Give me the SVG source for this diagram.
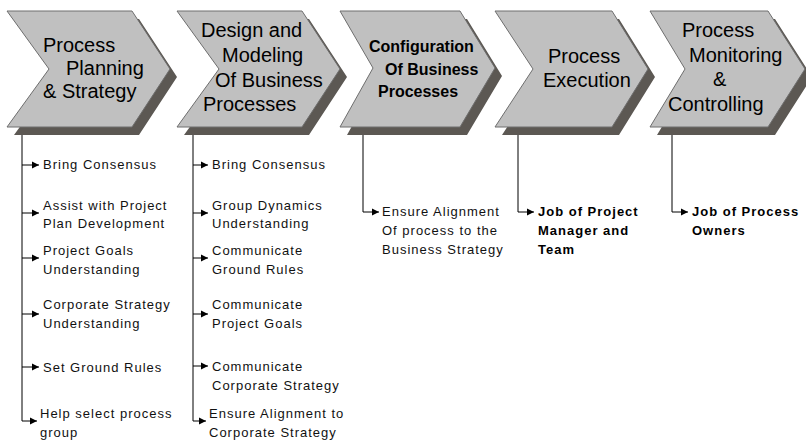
<svg xmlns="http://www.w3.org/2000/svg" width="806" height="442" viewBox="0 0 806 442">
<defs>
<marker id="arr" markerUnits="userSpaceOnUse" markerWidth="9" markerHeight="9" refX="7" refY="4.5" orient="auto">
<path d="M0,1 L7,4.5 L0,8 Z" fill="#000"/>
</marker>
</defs>
<style>
.sh{fill:#5c5853}
.ch{fill:#c0c0c0;stroke:#6e6e6e;stroke-width:1}
.t{font-family:"Liberation Sans",Arial,sans-serif;font-size:20px;fill:#000}
.tb{font-family:"Liberation Sans",Arial,sans-serif;font-size:16px;font-weight:bold;fill:#000}
.s{font-family:"Liberation Sans",Arial,sans-serif;font-size:13px;letter-spacing:1px;fill:#111}
.sb{font-family:"Liberation Sans",Arial,sans-serif;font-size:13px;font-weight:bold;letter-spacing:1px;fill:#000}
.ln{fill:none;stroke:#000;stroke-width:1}
</style>
<rect width="806" height="442" fill="#fff"/>

<g id="step1">
<polygon class="sh" transform="translate(7,8)" points="7,11 132,11 170,69 132,127 7,127 49,69"/>
<polygon class="ch" points="7,11 132,11 170,69 132,127 7,127 49,69"/>
<text class="t"><tspan x="43" y="52">Process</tspan><tspan x="66" y="75">Planning</tspan><tspan x="43" y="98">&amp; Strategy</tspan></text>
</g>
<g id="step2">
<polygon class="sh" transform="translate(7,8)" points="177,11 302,11 340,69 302,127 177,127 219,69"/>
<polygon class="ch" points="177,11 302,11 340,69 302,127 177,127 219,69"/>
<text class="t"><tspan x="201" y="37">Design and</tspan><tspan x="222" y="62">Modeling</tspan><tspan x="215" y="87">Of Business</tspan><tspan x="203" y="111">Processes</tspan></text>
</g>
<g id="step3">
<polygon class="sh" transform="translate(7,8)" points="340,11 460,11 495,68 460,127 340,127 373,68"/>
<polygon class="ch" points="340,11 460,11 495,68 460,127 340,127 373,68"/>
<text class="tb"><tspan x="369" y="52">Configuration</tspan><tspan x="385" y="75">Of Business</tspan><tspan x="378" y="97">Processes</tspan></text>
</g>
<g id="step4">
<polygon class="sh" transform="translate(7,8)" points="495,11 612,11 648,69 612,127 495,127 533,69"/>
<polygon class="ch" points="495,11 612,11 648,69 612,127 495,127 533,69"/>
<text class="t"><tspan x="548" y="63">Process</tspan><tspan x="543" y="87">Execution</tspan></text>
</g>
<g id="step5">
<polygon class="sh" transform="translate(7,8)" points="650,11 768,11 805,69 768,127 650,127 685,69"/>
<polygon class="ch" points="650,11 768,11 805,69 768,127 650,127 685,69"/>
<text class="t"><tspan x="682" y="37">Process</tspan><tspan x="689" y="62">Monitoring</tspan><tspan x="713" y="86">&amp;</tspan><tspan x="668" y="111">Controlling</tspan></text>
</g>

<g id="connectors">
<path class="ln" d="M22,135 V421"/>
<path class="ln" marker-end="url(#arr)" d="M22,165 H39"/>
<path class="ln" marker-end="url(#arr)" d="M22,213 H39"/>
<path class="ln" marker-end="url(#arr)" d="M22,258 H39"/>
<path class="ln" marker-end="url(#arr)" d="M22,314 H39"/>
<path class="ln" marker-end="url(#arr)" d="M22,367 H39"/>
<path class="ln" marker-end="url(#arr)" d="M22,421 H37"/>

<path class="ln" d="M193,135 V421"/>
<path class="ln" marker-end="url(#arr)" d="M193,165 H208"/>
<path class="ln" marker-end="url(#arr)" d="M193,213 H208"/>
<path class="ln" marker-end="url(#arr)" d="M193,258 H208"/>
<path class="ln" marker-end="url(#arr)" d="M193,314 H208"/>
<path class="ln" marker-end="url(#arr)" d="M193,366 H208"/>
<path class="ln" marker-end="url(#arr)" d="M193,421 H206"/>

<path class="ln" marker-end="url(#arr)" d="M363,135 V212 H379"/>
<path class="ln" marker-end="url(#arr)" d="M518,135 V212 H534"/>
<path class="ln" marker-end="url(#arr)" d="M672,135 V212 H688"/>
</g>

<g id="list1">
<text class="s" x="43" y="169">Bring Consensus</text>
<text class="s"><tspan x="43" y="210">Assist with Project</tspan><tspan x="43" y="228">Plan Development</tspan></text>
<text class="s"><tspan x="43" y="255">Project Goals</tspan><tspan x="43" y="274">Understanding</tspan></text>
<text class="s"><tspan x="43" y="309">Corporate Strategy</tspan><tspan x="43" y="328">Understanding</tspan></text>
<text class="s" x="43" y="372">Set Ground Rules</text>
<text class="s"><tspan x="40" y="418">Help select process</tspan><tspan x="40" y="437">group</tspan></text>
</g>
<g id="list2">
<text class="s" x="212" y="169">Bring Consensus</text>
<text class="s"><tspan x="212" y="210">Group Dynamics</tspan><tspan x="212" y="228">Understanding</tspan></text>
<text class="s"><tspan x="212" y="255">Communicate</tspan><tspan x="212" y="274">Ground Rules</tspan></text>
<text class="s"><tspan x="212" y="309">Communicate</tspan><tspan x="212" y="328">Project Goals</tspan></text>
<text class="s"><tspan x="212" y="371">Communicate</tspan><tspan x="212" y="390">Corporate Strategy</tspan></text>
<text class="s"><tspan x="209" y="418">Ensure Alignment to</tspan><tspan x="209" y="437">Corporate Strategy</tspan></text>
</g>
<g id="list3">
<text class="s"><tspan x="382" y="216">Ensure Alignment</tspan><tspan x="382" y="235">Of process to  the</tspan><tspan x="382" y="254">Business Strategy</tspan></text>
</g>
<g id="list4">
<text class="sb"><tspan x="538" y="216">Job of Project</tspan><tspan x="538" y="235">Manager and</tspan><tspan x="538" y="254">Team</tspan></text>
</g>
<g id="list5">
<text class="sb"><tspan x="692" y="216">Job of Process</tspan><tspan x="692" y="235">Owners</tspan></text>
</g>
</svg>
